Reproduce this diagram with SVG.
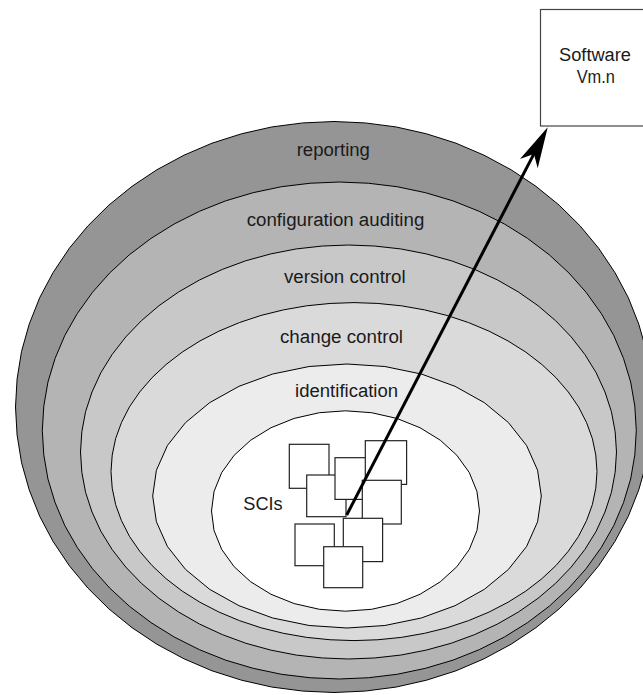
<svg xmlns="http://www.w3.org/2000/svg" xmlns:xlink="http://www.w3.org/1999/xlink" width="643" height="695" viewBox="0 0 643 695">
<style>
.ring{stroke:#000;stroke-width:1;stroke-linejoin:round}
.lbl{font-family:"Liberation Sans",Arial,sans-serif;font-size:18px;fill:#1a1a1a;text-anchor:middle}
.sci{fill:#fff;stroke:#222;stroke-width:1.2}
</style>
<defs>
<polygon id="p64" vector-effect="non-scaling-stroke" points="1000,0 995,98 981,195 957,290 924,383 882,471 831,556 773,634 707,707 634,773 556,831 471,882 383,924 290,957 195,981 98,995 0,1000 -98,995 -195,981 -290,957 -383,924 -471,882 -556,831 -634,773 -707,707 -773,634 -831,556 -882,471 -924,383 -957,290 -981,195 -995,98 -1000,0 -995,-98 -981,-195 -957,-290 -924,-383 -882,-471 -831,-556 -773,-634 -707,-707 -634,-773 -556,-831 -471,-882 -383,-924 -290,-957 -195,-981 -98,-995 0,-1000 98,-995 195,-981 290,-957 383,-924 471,-882 556,-831 634,-773 707,-707 773,-634 831,-556 882,-471 924,-383 957,-290 981,-195 995,-98"/>
<polygon id="p32" vector-effect="non-scaling-stroke" points="1000,0 981,195 924,383 831,556 707,707 556,831 383,924 195,981 0,1000 -195,981 -383,924 -556,831 -707,707 -831,556 -924,383 -981,195 -1000,0 -981,-195 -924,-383 -831,-556 -707,-707 -556,-831 -383,-924 -195,-981 0,-1000 195,-981 383,-924 556,-831 707,-707 831,-556 924,-383 981,-195"/>
<marker id="ah" markerUnits="userSpaceOnUse" markerWidth="60" markerHeight="40" viewBox="-15 -20 60 40" refX="0" refY="0" orient="auto" overflow="visible">
<path d="M30,0 L-11,-10 L0,0 L-11,10 Z" fill="#000"/>
</marker>
</defs>

<g id="reporting">
<use xlink:href="#p64" class="ring" fill="#959595" transform="translate(334,407) scale(0.3185,0.2855)"/>
<text class="lbl" x="333.3" y="155.5" textLength="73.3" lengthAdjust="spacingAndGlyphs">reporting</text>
</g>
<g id="configuration-auditing">
<use xlink:href="#p64" class="ring" fill="#b4b4b4" transform="translate(339.3,430.5) scale(0.297,0.2485)"/>
<text class="lbl" x="335.5" y="226" textLength="177.6" lengthAdjust="spacingAndGlyphs">configuration auditing</text>
</g>
<g id="version-control">
<use xlink:href="#p64" class="ring" fill="#c8c8c8" transform="translate(348.5,452) scale(0.268,0.207)"/>
<text class="lbl" x="344.8" y="282.7" textLength="121.7" lengthAdjust="spacingAndGlyphs">version control</text>
</g>
<g id="change-control">
<use xlink:href="#p64" class="ring" fill="#dadada" transform="translate(354,471.6) scale(0.243,0.169)"/>
<text class="lbl" x="341.5" y="343" textLength="123" lengthAdjust="spacingAndGlyphs">change control</text>
</g>
<g id="identification">
<use xlink:href="#p32" class="ring" fill="#ececec" transform="translate(347,496) scale(0.1943,0.132)"/>
<text class="lbl" x="346.6" y="397" textLength="103" lengthAdjust="spacingAndGlyphs">identification</text>
</g>
<g id="scis">
<use xlink:href="#p32" class="ring" fill="#ffffff" transform="translate(345.5,511) scale(0.134,0.1002)"/>
<text class="lbl" x="263" y="510" textLength="39.4" lengthAdjust="spacingAndGlyphs">SCIs</text>
<rect class="sci" x="289.3" y="444.3" width="39.7" height="44"/>
<rect class="sci" x="306.7" y="475" width="39.3" height="41.7"/>
<rect class="sci" x="335" y="457.7" width="40" height="41.7"/>
<rect class="sci" x="365.3" y="440.7" width="41.3" height="43.7"/>
<rect class="sci" x="362.3" y="480.3" width="39" height="43.7"/>
<rect class="sci" x="295" y="524" width="39.3" height="41.7"/>
<rect class="sci" x="343.3" y="518.3" width="39.3" height="43.3"/>
<rect class="sci" x="323.7" y="546.7" width="39" height="41"/>
</g>
<g id="software">
<rect x="540.5" y="9.5" width="112" height="116.5" fill="#fff" stroke="#444" stroke-width="1.2"/>
<text class="lbl" x="595" y="60.5" textLength="72" lengthAdjust="spacingAndGlyphs">Software</text>
<text class="lbl" x="595.8" y="82.5" textLength="38.3" lengthAdjust="spacingAndGlyphs">Vm.n</text>
</g>
<g id="connectors">
<path d="M346.7,515 L533.9,153.9" fill="none" stroke="#000" stroke-width="3" marker-end="url(#ah)"/>
</g>
</svg>
